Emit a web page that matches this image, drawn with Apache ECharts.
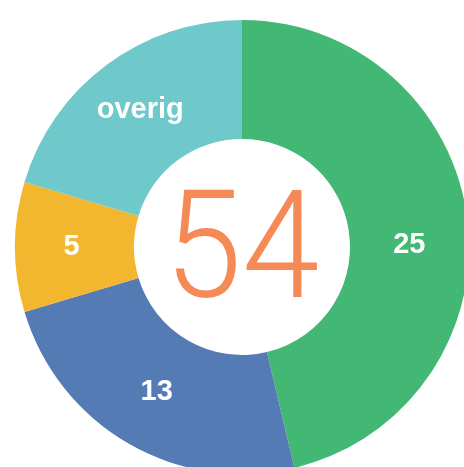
<!DOCTYPE html>
<html>
<head>
<meta charset="utf-8">
<script src="https://cdn.jsdelivr.net/npm/echarts@6/dist/echarts.min.js"></script>
<style>
html, body { margin: 0; padding: 0; background: #fff; }
#chart { width: 464px; height: 467px; }
</style>
</head>
<body>
<div id="chart"></div>
<script>
var categories = ['groen', 'blauw', 'geel', 'overig'];
var values = [25, 13, 5, 11];
var labels = ['25', '13', '5', 'overig'];
var colors = ['#43b874', '#557bb4', '#f2b72f', '#6fc8c9'];
var total = 54;

var chart = echarts.init(document.getElementById('chart'));
var data = values.map(function (v, i) {
    var item = { name: categories[i], value: v, itemStyle: { color: colors[i] } };
    item.label = { formatter: labels[i] };
    if (i === 0) item.label.offset = [-2, 18];
    if (i === 1) item.label.offset = [0, -3];
    return item;
});
chart.setOption({
    animation: false,
    graphic: [{
        type: 'text',
        x: 242, y: 259,
        scaleX: 0.93,
        style: {
            text: String(total),
            x: 0, y: 0,
            align: 'center', verticalAlign: 'middle',
            fill: '#f58a56',
            font: '300 150px Roboto'
        }
    }],
    series: [{
        type: 'pie',
        center: [242, 247],
        radius: [108, 227],
        startAngle: 90,
        clockwise: true,
        label: {
            show: true,
            position: 'inside',
            color: '#fff',
            fontSize: 29,
            fontWeight: 'bold',
            fontFamily: 'Liberation Sans'
        },
        labelLine: { show: false },
        data: data
    }]
});
</script>
</body>
</html>
